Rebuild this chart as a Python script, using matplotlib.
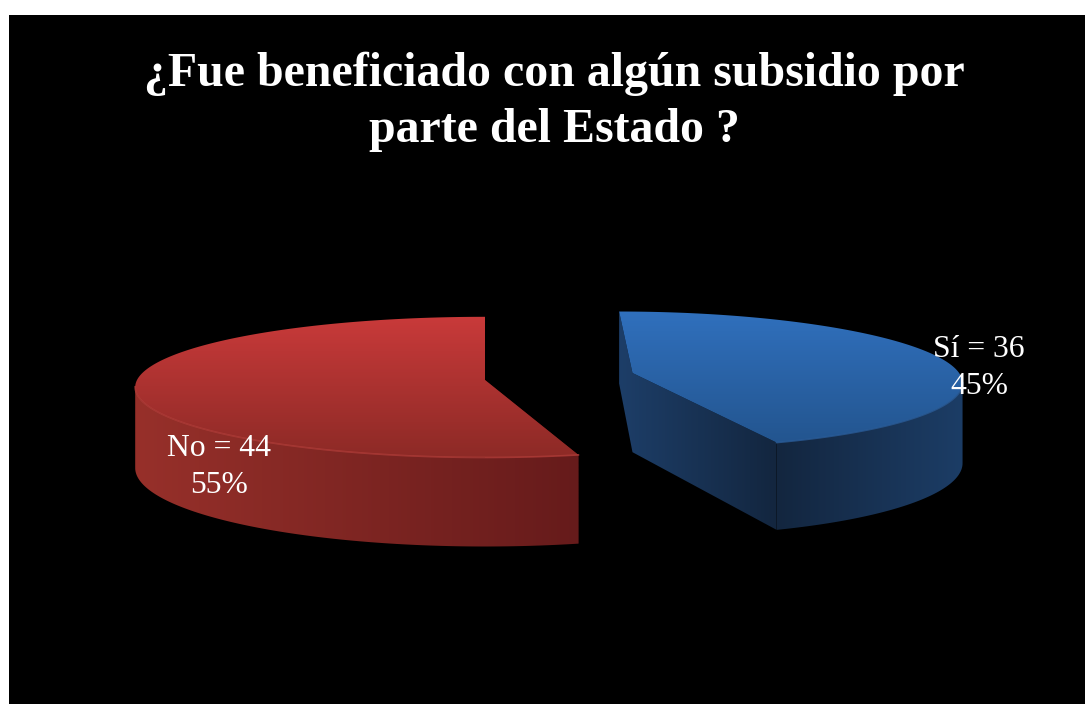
import numpy as np
import matplotlib
matplotlib.use("Agg")
import matplotlib.pyplot as plt
from matplotlib.colors import LinearSegmentedColormap
from matplotlib.patches import Polygon, Rectangle

title = "¿Fue beneficiado con algún subsidio por\nparte del Estado ?"
categories = ["Sí", "No"]
counts = [36, 44]

# look of each slice: centre on the floor, radii, and how many degrees the
# 3D view eats from the inner edge near the front
slice_cx = [634, 485]
slice_cy = [373, 380]
radius_x = [330, 348]
radius_y = [342, 345]
trim = [3, 4]
top_colors = [("#3070bd", "#23558f"), ("#c93a3a", "#8d2a26")]
wall_colors = [("#13263f", "#1c3d66"), ("#97302a", "#661b1b")]
inner_color = [("#1d3e68", "#13263f"), ("#661b1b", "#661b1b")]
rim_colors = ["#2a5c98", "#b03c38"]
label_pos = [(979, 368), (219, 467)]

# perspective: horizon row, vanishing column, camera distance
horizon = -306
vanish_x = 485
cam = 3400
ref_row = 380
height = 80


def project(cx, cy, u, v):
    # floor point around the slice centre -> picture pixels
    s0 = (cy - horizon) / (ref_row - horizon)
    y0 = cam * (1 / s0 - 1)
    s = cam / (cam + y0 + v)
    return vanish_x + (cx + u - vanish_x) * s, horizon + (ref_row - horizon) * s, s


def arc(i, a0, a1, drop=0):
    t = np.radians(np.linspace(a0, a1, 200))
    x, y, s = project(slice_cx[i], slice_cy[i], radius_x[i] * np.sin(t), radius_y[i] * np.cos(t))
    return np.column_stack([x, y + drop * s])


def fill(ax, pts, c0, c1, vertical):
    cmap = LinearSegmentedColormap.from_list("g", [c0, c1])
    grad = np.linspace(0, 1, 256)
    grad = grad[:, None] if vertical else grad[None, :]
    x0, y0 = pts.min(axis=0)
    x1, y1 = pts.max(axis=0)
    im = ax.imshow(grad, cmap=cmap, extent=(x0, x1, y1, y0), aspect="auto",
                   interpolation="bilinear", zorder=2)
    im.set_clip_path(Polygon(pts, closed=True, transform=ax.transData))


fig = plt.figure(figsize=(10.85, 7.04), dpi=100, facecolor="white")
ax = fig.add_axes([0, 0, 1, 1])
ax.axis("off")
ax.add_patch(Rectangle((9, 15), 1076, 689, facecolor="black", edgecolor="none", zorder=0))

total = sum(counts)
angles = np.cumsum([0] + [c / total * 360 for c in counts])
for i in range(len(counts)):
    a0 = angles[i] + (trim[i] if i > 0 else 0)
    a1 = angles[i + 1] - (trim[i] if i == 0 else 0)
    top_arc = arc(i, a0, a1)
    low_arc = arc(i, a0, a1, height)
    ax_, ay_, s_ = project(slice_cx[i], slice_cy[i], 0, 0)
    apex = np.array([ax_, ay_])
    apex_low = np.array([ax_, ay_ + height * s_])

    # inner walls first, the outer wall and top face go over them
    inner = np.vstack([top_arc[0], apex, top_arc[-1], low_arc[-1], apex_low, low_arc[0]])
    fill(ax, inner, inner_color[i][0], inner_color[i][1], False)

    # the wall runs from the front corner to the widest point of the rim
    if (a0 + a1) / 2 < 180:
        k = np.argmax(top_arc[:, 0])
        front, front_low = top_arc[k:], low_arc[k:]
    else:
        k = np.argmin(top_arc[:, 0])
        front, front_low = top_arc[:k + 1], low_arc[:k + 1]
    outer = np.vstack([front, front_low[::-1]])
    fill(ax, outer, wall_colors[i][0], wall_colors[i][1], False)

    face = np.vstack([apex, top_arc])
    fill(ax, face, top_colors[i][0], top_colors[i][1], True)
    ax.plot(front[:, 0], front[:, 1], color=rim_colors[i], lw=1.2, alpha=0.8, zorder=3)

    pct = round(counts[i] / total * 100)
    ax.text(label_pos[i][0], label_pos[i][1], f"{categories[i]} = {counts[i]}\n{pct}%",
            color="white", fontsize=22.8, family="Liberation Serif",
            ha="center", va="center", linespacing=1.35, zorder=5)

ax.text(554, 102, title, color="white", fontsize=34.5, fontweight="bold",
        family="Liberation Serif", ha="center", va="center", linespacing=1.34, zorder=5)

ax.set_xlim(0, 1085)
ax.set_ylim(704, 0)
fig.savefig("out.png", dpi=100, facecolor="white")
